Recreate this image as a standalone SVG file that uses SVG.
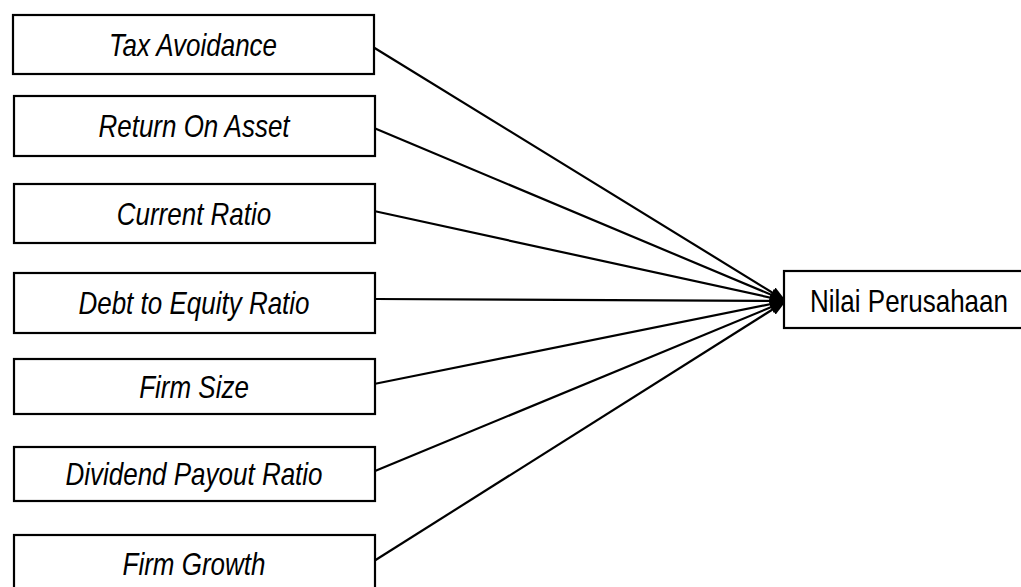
<svg xmlns="http://www.w3.org/2000/svg" width="1021" height="587" viewBox="0 0 1021 587">
<defs>
<style>
.box{fill:#fff;stroke:#000;stroke-width:2.2}
.lbl{font-family:"Liberation Sans",Arial,sans-serif;font-size:26px;font-style:italic;fill:#000;text-anchor:middle}
.tgt{font-family:"Liberation Sans",Arial,sans-serif;font-size:26px;fill:#000;text-anchor:middle}
.con{stroke:#000;stroke-width:2.2;fill:none;marker-end:url(#ah)}
</style>
<marker id="ah" viewBox="0 0 16 12" refX="16" refY="6" markerWidth="16" markerHeight="12" markerUnits="userSpaceOnUse" orient="auto">
<path d="M0,0 L16,6 L0,12 z" fill="#000"/>
</marker>
</defs>
<rect width="1021" height="587" fill="#fff"/>
<g id="connectors">
<line class="con" x1="373" y1="47" x2="786" y2="301"/>
<line class="con" x1="374" y1="128" x2="786" y2="301"/>
<line class="con" x1="374" y1="211" x2="786" y2="301"/>
<line class="con" x1="375" y1="299" x2="786" y2="301"/>
<line class="con" x1="374" y1="384" x2="786" y2="301"/>
<line class="con" x1="375" y1="471" x2="786" y2="301"/>
<line class="con" x1="374" y1="561" x2="786" y2="301"/>
</g>
<g id="n1"><rect class="box" x="13" y="15" width="361" height="59"/><text class="lbl" transform="translate(193,56) scale(1,1.18)">Tax Avoidance</text></g>
<g id="n2"><rect class="box" x="14" y="96" width="361" height="60"/><text class="lbl" transform="translate(194,137) scale(1,1.18)">Return On Asset</text></g>
<g id="n3"><rect class="box" x="14" y="184" width="361" height="59"/><text class="lbl" transform="translate(194,225) scale(1,1.18)">Current Ratio</text></g>
<g id="n4"><rect class="box" x="14" y="273" width="361" height="60"/><text class="lbl" transform="translate(194,314) scale(1,1.18)">Debt to Equity Ratio</text></g>
<g id="n5"><rect class="box" x="14" y="359" width="361" height="55"/><text class="lbl" transform="translate(194,398) scale(1,1.18)">Firm Size</text></g>
<g id="n6"><rect class="box" x="14" y="447" width="361" height="54"/><text class="lbl" transform="translate(194,485) scale(1,1.18)">Dividend Payout Ratio</text></g>
<g id="n7"><rect class="box" x="14" y="535" width="361" height="62"/><text class="lbl" transform="translate(194,575) scale(1,1.18)">Firm Growth</text></g>
<g id="target"><rect class="box" x="784" y="271" width="250" height="57"/><text class="tgt" transform="translate(909,312) scale(1,1.18)">Nilai Perusahaan</text></g>
</svg>
